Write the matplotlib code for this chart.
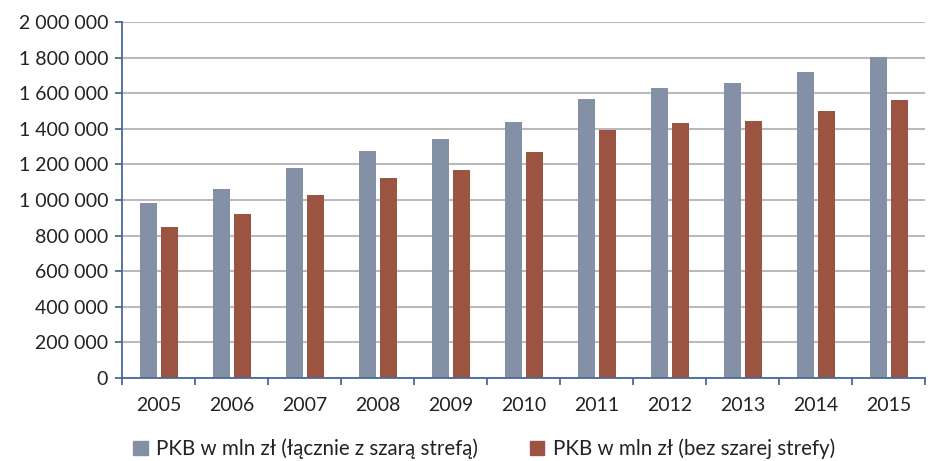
import matplotlib
matplotlib.use("Agg")
import matplotlib.pyplot as plt
import numpy as np
from matplotlib.ticker import FuncFormatter, FixedLocator
from matplotlib.patches import Patch

years = ["2005", "2006", "2007", "2008", "2009", "2010", "2011", "2012", "2013", "2014", "2015"]
pkb_total = [983000, 1062000, 1180000, 1275000, 1343000, 1438000, 1567000, 1629000, 1657000, 1721000, 1801000]
pkb_no_grey = [848000, 921000, 1028000, 1124000, 1169000, 1270000, 1393000, 1431000, 1442000, 1502000, 1562000]
labels = ["PKB w mln zł (łącznie z szarą strefą)", "PKB w mln zł (bez szarej strefy)"]

plt.rcParams['font.family'] = ['Lato', 'DejaVu Sans']

fig = plt.figure(figsize=(9.33, 4.61), dpi=100)
ax = fig.add_axes([122/933, 83/461, (925-122)/933, (378-22)/461])

x = np.arange(len(years))
w = 0.235
c1 = "#8490a5"
c2 = "#9b5442"
ax.bar(x - 0.14, pkb_total, width=w, color=c1, zorder=3)
ax.bar(x + 0.15, pkb_no_grey, width=w, color=c2, zorder=3)

ax.set_xlim(-0.5, len(years) - 0.5)
ax.set_ylim(0, 2000000)
ax.set_yticks(np.arange(0, 2000001, 200000))
ax.yaxis.set_major_formatter(FuncFormatter(lambda v, p: f"{int(v):,}".replace(",", " ")))
ax.set_xticks(x)
ax.set_xticklabels(years)
ax.xaxis.set_minor_locator(FixedLocator(np.arange(-0.5, len(years), 1.0)))
ax.tick_params(axis='x', which='major', length=0, pad=14, labelsize=14, colors="#222222")
ax.tick_params(axis='x', which='minor', length=5, width=1.3, color="#4a6a96", direction='out')
ax.tick_params(axis='y', length=5, width=1.3, color="#4a6a96", direction='out', labelsize=14, labelcolor="#222222", pad=5)

ax.grid(axis='y', color="#bababa", linewidth=1.5, zorder=0)
for s in ['top', 'right']:
    ax.spines[s].set_visible(False)
for s in ['left', 'bottom']:
    ax.spines[s].set_color("#4a6a96")
    ax.spines[s].set_linewidth(1.3)
    ax.spines[s].set_zorder(4)

handles = [Patch(color=c1), Patch(color=c2)]
fig.legend(handles, labels, loc='center', bbox_to_anchor=(484/933, (461-449)/461), ncol=2, frameon=False,
           fontsize=14.8, handlelength=0.7, handleheight=0.7, handletextpad=0.4, columnspacing=2.55,
           labelcolor="#222222")

fig.savefig("out.png", dpi=100, facecolor="white")
